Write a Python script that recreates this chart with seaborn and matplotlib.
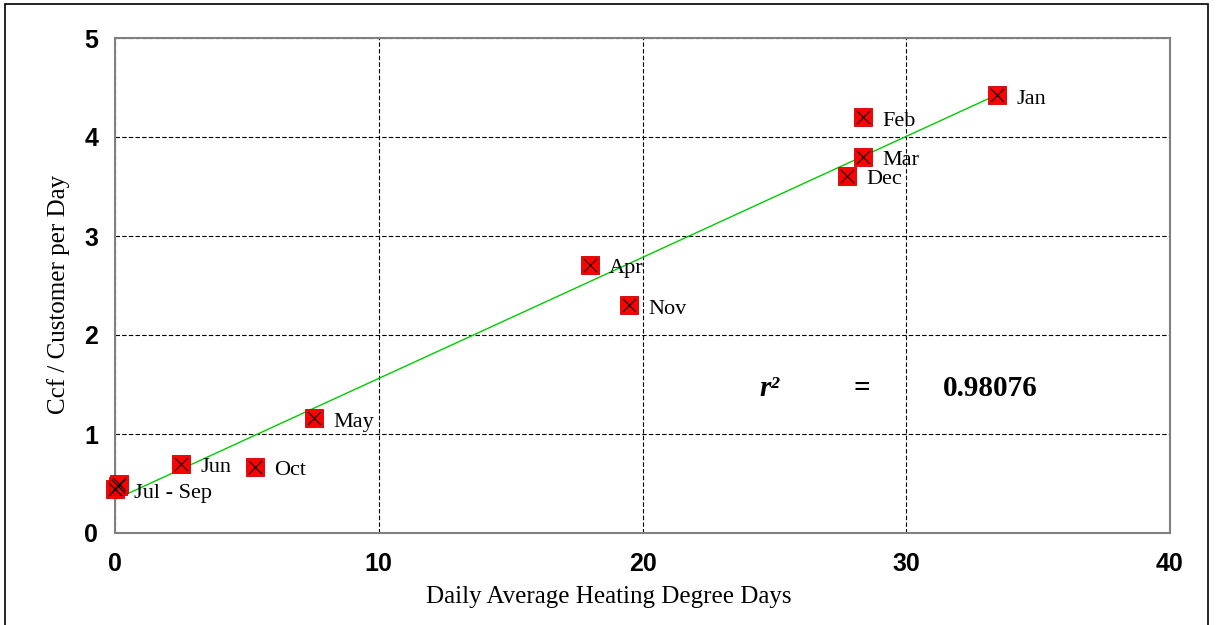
import numpy as np
import pandas as pd
import seaborn as sns
import matplotlib.pyplot as plt
from matplotlib.patches import Rectangle

# monthly points (heating degree days vs ccf per customer per day)
months = ["Jan", "Feb", "Mar", "Dec", "Apr", "Nov", "May", "Jun", "Oct", "Jul", "Aug", "Sep"]
hdd = [33.45, 28.35, 28.35, 27.75, 18.0, 19.5, 7.55, 2.5, 5.3, 0.0, 0.1, 0.15]
ccf = [4.42, 4.20, 3.80, 3.61, 2.71, 2.30, 1.16, 0.70, 0.67, 0.44, 0.47, 0.49]
point_labels = ["Jan", "Feb", "Mar", "Dec", "Apr", "Nov", "May", "Jun", "Oct", "Jul - Sep", "", ""]
r2_text = "0.98076"

df = pd.DataFrame({"month": months, "hdd": hdd, "ccf": ccf, "label": point_labels})

sns.set_style("white")
plt.rcParams["font.family"] = ["Liberation Serif", "DejaVu Serif"]
plt.rcParams["text.color"] = "black"
plt.rcParams["axes.labelcolor"] = "black"
plt.rcParams["xtick.color"] = "black"
plt.rcParams["ytick.color"] = "black"

fig = plt.figure(figsize=(12.18, 6.25), dpi=100)
ax = fig.add_axes([115 / 1218, 1 - 533 / 625, 1055 / 1218, 495 / 625])

# outer frame
fig.patches.append(Rectangle((5 / 1218, -0.05), 1203 / 1218, 1.05 - 4 / 625,
                             transform=fig.transFigure, fill=False,
                             edgecolor="black", linewidth=1.2, zorder=0))

# trend line from the fit
slope, icpt = np.polyfit(df["hdd"], df["ccf"], 1)
xs = np.array([0, max(hdd)])
ax.plot(xs, slope * xs + icpt, color="#00cc00", linewidth=1.0, zorder=2)

sns.scatterplot(data=df, x="hdd", y="ccf", marker="s", s=150, color="#ff0000",
                edgecolor="#cc0000", linewidth=0.6, ax=ax, zorder=3, clip_on=False)
ax.scatter(df["hdd"], df["ccf"], marker="x", s=90, color="black",
           linewidth=0.8, zorder=4, clip_on=False)

for _, row in df.iterrows():
    if row["label"]:
        ax.annotate(row["label"], (row["hdd"], row["ccf"]), xytext=(14, -3),
                    textcoords="offset points", fontsize=16, color="black",
                    va="center", zorder=5)

ax.text(24.8, 1.46, "r²", fontsize=21, fontweight="bold",
        style="italic", ha="center", va="center")
ax.text(28.3, 1.46, "=", fontsize=21, fontweight="bold", ha="center", va="center")
ax.text(33.2, 1.46, r2_text, fontsize=21, fontweight="bold", ha="center", va="center")

ax.set_xlim(0, 40)
ax.set_ylim(0, 5)
ax.set_xticks([0, 10, 20, 30, 40])
ax.set_yticks([0, 1, 2, 3, 4, 5])
ax.tick_params(length=0)
for lab in ax.get_xticklabels() + ax.get_yticklabels():
    lab.set_fontfamily("Liberation Sans")
    lab.set_fontweight("bold")
    lab.set_fontsize(18)
ax.tick_params(axis="x", pad=14)
ax.tick_params(axis="y", pad=12)

ax.grid(True, color="black", linestyle=(0, (4, 2)), linewidth=0.8)
ax.set_axisbelow(True)
for sp in ax.spines.values():
    sp.set_color("#808080")
    sp.set_linewidth(1.5)

ax.set_xlabel("Daily Average Heating Degree Days", fontsize=18)
ax.set_ylabel("Ccf / Customer per Day", fontsize=18)
ax.xaxis.set_label_coords(0.468, -0.108)
ax.yaxis.set_label_coords(-0.043, 0.481)

fig.savefig("out.png", dpi=100)
